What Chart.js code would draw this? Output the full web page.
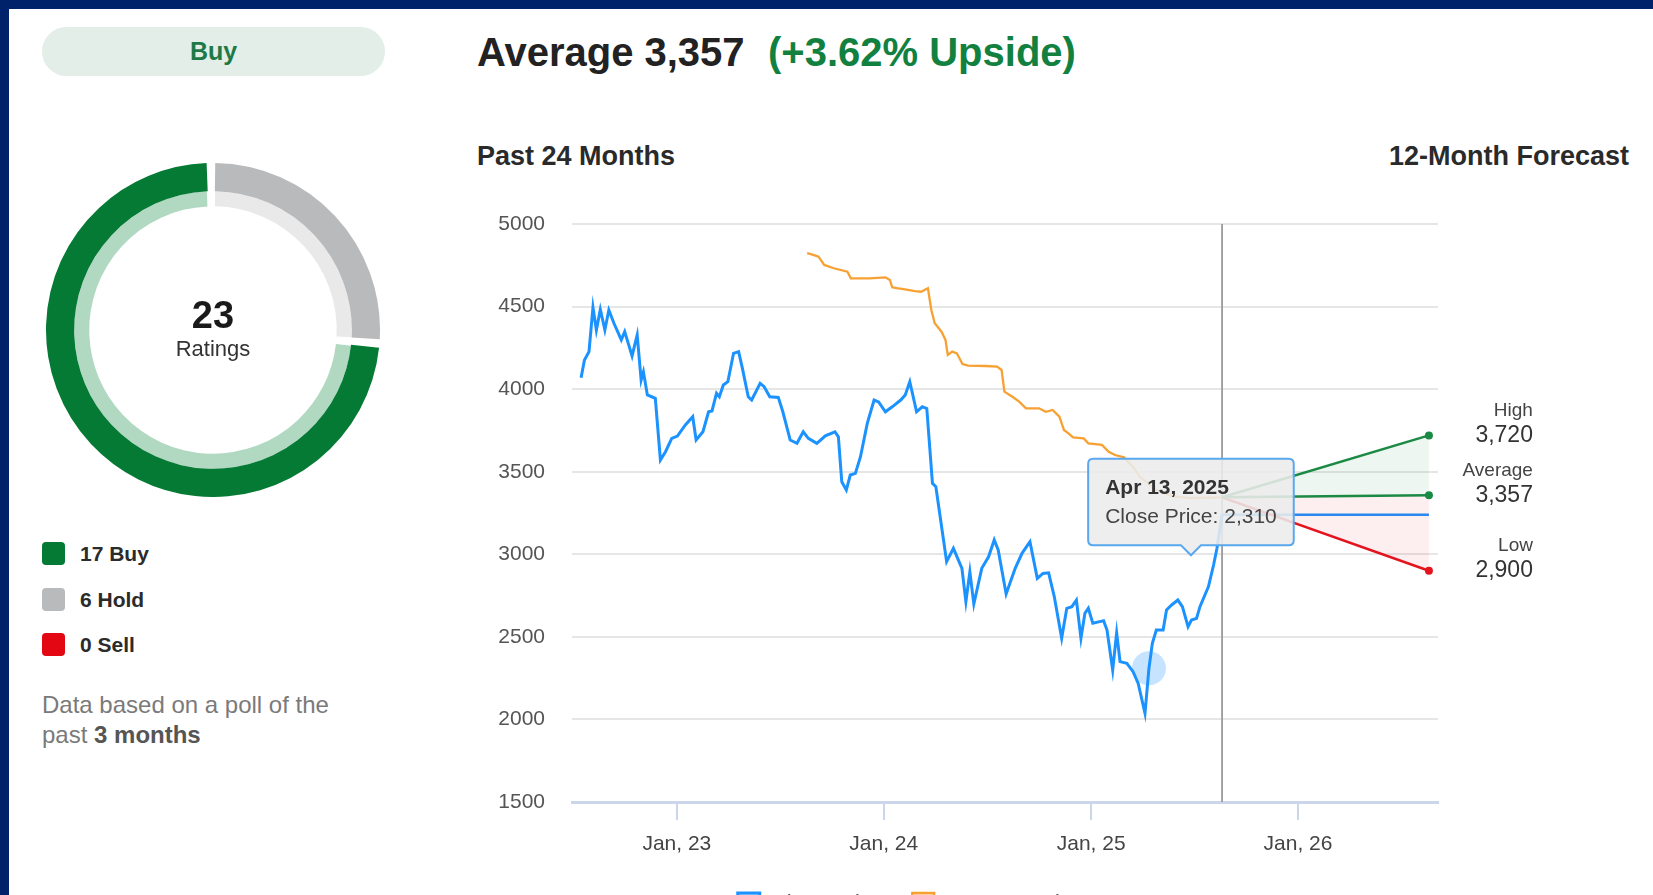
<!DOCTYPE html>
<html>
<head>
<meta charset="utf-8">
<title>Analyst Price Target</title>
<script src="https://cdn.jsdelivr.net/npm/chart.js@4.4.1/dist/chart.umd.min.js"></script>
<style>
  html, body { margin: 0; padding: 0; }
  body {
    width: 1653px; height: 895px; overflow: hidden; position: relative;
    background: #fff; font-family: "Liberation Sans", Arial, sans-serif; color: #333;
  }
  .frame-top { position: absolute; left: 0; top: 0; width: 1653px; height: 9px; background: #00226a; }
  .frame-left { position: absolute; left: 0; top: 0; width: 9px; height: 895px; background: #00226a; }
  .pill {
    position: absolute; left: 42px; top: 27px; width: 343px; height: 49px; border-radius: 25px;
    background: #e3eee8; color: #1d7a48; font-weight: bold; font-size: 25px; line-height: 49px; text-align: center;
  }
  #donutBox { position: absolute; left: 46px; top: 163px; width: 334px; height: 334px; }
  .count { position: absolute; left: 113px; width: 200px; top: 296px; text-align: center; font-size: 38px; line-height: 1; font-weight: bold; color: #1a1a1a; }
  .count-label { position: absolute; left: 113px; width: 200px; top: 338px; text-align: center; font-size: 22px; line-height: 1; color: #333; }
  .legend { position: absolute; left: 42px; top: 542px; }
  .legend-row { height: 23px; margin-bottom: 22.6px; display: flex; align-items: center; }
  .swatch { width: 23px; height: 23px; border-radius: 4px; margin-right: 15px; }
  .legend-row span { font-size: 21px; font-weight: bold; line-height: 23px; color: #2b2b2b; }
  .note { position: absolute; left: 42px; top: 690px; width: 300px; font-size: 24px; line-height: 30px; color: #7a7a7a; }
  .note b { color: #555; }
  .headline { position: absolute; top: 32px; font-size: 40px; line-height: 1; font-weight: bold; color: #222; white-space: nowrap; }
  .upside { color: #12803f; }
  .subhead { position: absolute; top: 143px; font-size: 27px; line-height: 1; font-weight: bold; color: #2a2a2a; white-space: nowrap; }
  #priceBox { position: absolute; left: 450px; top: 180px; width: 1203px; height: 745px; }
</style>
</head>
<body>
<div class="frame-top"></div>
<div class="frame-left"></div>

<div class="pill">Buy</div>
<div id="donutBox"><canvas id="donut"></canvas></div>
<div class="count" id="ratingTotal"></div>
<div class="count-label">Ratings</div>
<div class="legend" id="ratingLegend"></div>
<div class="note">Data based on a poll of the past <b>3 months</b></div>

<div class="headline" style="left:477px;">Average 3,357</div>
<div class="headline upside" style="left:768px;">(+3.62% Upside)</div>
<div class="subhead" style="left:477px;">Past 24 Months</div>
<div class="subhead" style="right:24px;">12-Month Forecast</div>

<div id="priceBox"><canvas id="price"></canvas></div>

<script>
// ratings poll
const ratingLabels = ["Buy", "Hold", "Sell"];
const ratingCounts = [17, 6, 0];
const ratingColors = ["#047a35", "#b8babc", "#e30613"];
const ratingLightColors = ["#b1d8c1", "#e9e9ea", "#f6c4c6"];

// close price
const closeDates = [
  "2022-07-16","2022-07-22","2022-07-30","2022-08-06","2022-08-12","2022-08-19","2022-08-27","2022-09-03","2022-09-12","2022-09-25",
  "2022-10-01","2022-10-14","2022-10-23","2022-10-30","2022-11-03","2022-11-10","2022-11-24","2022-12-03","2022-12-12","2022-12-23",
  "2023-01-02","2023-01-16","2023-01-29","2023-02-04","2023-02-16","2023-02-26","2023-03-04","2023-03-12","2023-03-17","2023-03-24",
  "2023-04-01","2023-04-11","2023-04-20","2023-04-26","2023-05-07","2023-05-13","2023-05-28","2023-06-04","2023-06-14","2023-06-29",
  "2023-07-07","2023-07-20","2023-08-01","2023-08-12","2023-08-21","2023-09-05","2023-09-20","2023-10-07","2023-10-13","2023-10-19",
  "2023-10-27","2023-11-03","2023-11-12","2023-11-21","2023-12-03","2023-12-15","2023-12-23","2024-01-04","2024-01-16","2024-01-31",
  "2024-02-08","2024-02-16","2024-02-28","2024-03-09","2024-03-17","2024-03-27","2024-04-02","2024-04-21","2024-05-03","2024-05-18",
  "2024-05-25","2024-06-01","2024-06-08","2024-06-22","2024-07-04","2024-07-14","2024-07-21","2024-08-04","2024-08-20","2024-09-01",
  "2024-09-15","2024-09-28","2024-10-08","2024-10-18","2024-10-28","2024-11-10","2024-11-19","2024-11-28","2024-12-06","2024-12-14",
  "2024-12-21","2024-12-27","2025-01-04","2025-01-16","2025-01-23","2025-01-29","2025-02-08","2025-02-15","2025-02-21","2025-03-05",
  "2025-03-16","2025-03-25","2025-04-06","2025-04-13","2025-04-19","2025-04-26","2025-05-08","2025-05-14","2025-05-23","2025-06-03",
  "2025-06-11","2025-06-21","2025-06-27","2025-07-06","2025-07-12","2025-07-27","2025-08-05","2025-08-11","2025-08-20"
];
const closeValues = [
  4069,4176,4227,4495,4358,4483,4358,4479,4399,4298,
  4348,4201,4328,4055,4105,3965,3944,3571,3621,3702,
  3716,3783,3833,3692,3742,3863,3868,3975,3954,4025,
  4045,4217,4227,4136,3954,3934,4035,4015,3954,3950,
  3863,3692,3672,3742,3702,3672,3717,3742,3711,3439,
  3389,3480,3490,3591,3793,3934,3923,3863,3893,3934,
  3965,4045,3863,3893,3883,3429,3409,2955,3036,2915,
  2713,2894,2699,2915,2985,3087,3026,2760,2915,3006,
  3076,2854,2884,2888,2743,2491,2673,2683,2723,2491,
  2643,2673,2582,2592,2598,2541,2299,2525,2350,2340,
  2289,2218,2037,2310,2461,2541,2541,2663,2693,2723,
  2683,2562,2602,2612,2683,2804,2935,3036,3240
];

// average analyst price target, orange line
const targetDates = [
  "2023-08-19","2023-08-31","2023-09-08","2023-09-18","2023-10-05","2023-10-29","2023-11-04","2023-12-07","2024-01-04","2024-01-12",
  "2024-01-16","2024-01-24","2024-02-05","2024-02-25","2024-03-07","2024-03-19","2024-03-25","2024-03-31","2024-04-12","2024-04-19",
  "2024-04-23","2024-05-01","2024-05-09","2024-05-19","2024-05-29","2024-06-29","2024-07-19","2024-07-27","2024-08-01","2024-08-15",
  "2024-08-27","2024-09-08","2024-10-01","2024-10-13","2024-10-25","2024-11-06","2024-11-14","2024-11-22","2024-11-30","2024-12-19",
  "2024-12-27","2025-01-20","2025-02-01","2025-02-12","2025-02-28","2025-03-16","2025-03-28","2025-04-26","2025-05-26","2025-06-25",
  "2025-08-20"
];
const targetValues = [
  4823,4812,4802,4752,4732,4711,4671,4671,4677,4661,
  4617,4611,4605,4594,4590,4611,4479,4399,4348,4298,
  4207,4227,4217,4152,4142,4140,4136,4116,3985,3954,
  3924,3884,3884,3863,3874,3833,3753,3732,3708,3702,
  3672,3662,3621,3601,3587,3529,3469,3389,3350,3340,
  3345
];

// 12 month forecast
const forecastDates = ["2025-08-20", "2026-08-20"];
const forecastStart = 3345;
const forecastHigh = 3720;
const forecastAvg = 3357;
const forecastLow = 2900;
const lastClose = 3240;

const xRange = ["2022-06-30", "2026-09-05"];
const xTickDates = ["2023-01-01", "2024-01-01", "2025-01-01", "2026-01-01"];
const yTicks = [1500, 2000, 2500, 3000, 3500, 4000, 4500, 5000];
const tooltipDate = "2025-04-13";

const MONTHS = ["Jan","Feb","Mar","Apr","May","Jun","Jul","Aug","Sep","Oct","Nov","Dec"];
const toMs = (d) => Date.parse(d);
const pairs = (dates, values) => dates.map((d, i) => ({ x: toMs(d), y: values[i] }));

Chart.defaults.font.family = "'Liberation Sans', Arial, sans-serif";

// ---------- left side: ratings donut ----------
const total = ratingCounts.reduce((a, b) => a + b, 0);
document.getElementById("ratingTotal").textContent = total;

document.getElementById("ratingLegend").innerHTML = ratingLabels.map((label, i) => `
  <div class="legend-row">
    <div class="swatch" style="background:${ratingColors[i]}"></div>
    <span>${ratingCounts[i]} ${label}</span>
  </div>`).join("");

new Chart(document.getElementById("donut"), {
  type: "doughnut",
  data: {
    labels: ratingLabels,
    datasets: [
      { data: ratingCounts, backgroundColor: ratingColors, borderWidth: 0, spacing: 5, weight: 28 },
      { data: ratingCounts, backgroundColor: ratingLightColors, borderWidth: 0, spacing: 5, weight: 15 }
    ]
  },
  options: {
    responsive: true,
    maintainAspectRatio: false,
    animation: false,
    events: [],
    cutout: "73.7%",
    // hold slice starts at 12 o'clock, buy follows it
    rotation: 360 * ratingCounts[1] / total,
    plugins: { legend: { display: false }, tooltip: { enabled: false } }
  }
});

// ---------- right side: price chart ----------
Chart.Tooltip.positioners.priceTag = function (items) {
  if (!items.length) return false;
  const el = items[0].element;
  return { x: el.x + 42, y: el.y - 113 };
};

const forecastLabels = {
  id: "forecastLabels",
  afterDatasetsDraw(chart) {
    const ctx = chart.ctx;
    const items = [[2, "High"], [3, "Average"], [4, "Low"]];
    ctx.save();
    ctx.textAlign = "right";
    ctx.textBaseline = "middle";
    items.forEach(([di, name]) => {
      const pts = chart.getDatasetMeta(di).data;
      const p = pts[pts.length - 1];
      const v = chart.data.datasets[di].data[pts.length - 1].y;
      const x = p.x + 104;
      ctx.fillStyle = "#333";
      ctx.font = "23px 'Liberation Sans', Arial, sans-serif";
      ctx.fillText(v.toLocaleString("en-US"), x, p.y);
      ctx.fillStyle = "#444";
      ctx.font = "19px 'Liberation Sans', Arial, sans-serif";
      ctx.fillText(name, x, p.y - 25);
    });
    ctx.restore();
  }
};

const fc = (endValue) => [{ x: toMs(forecastDates[0]), y: forecastStart }, { x: toMs(forecastDates[1]), y: endValue }];

// legend sits below the visible area, only its top edge shows
const legendGap = 29;

const priceChart = new Chart(document.getElementById("price"), {
  type: "line",
  data: {
    datasets: [
      {
        label: "Close Price",
        data: pairs(closeDates, closeValues),
        borderColor: "#1c92ff",
        backgroundColor: "rgba(28,146,255,0.35)",
        borderWidth: 3,
        pointRadius: 0,
        pointHoverRadius: 17,
        pointHoverBorderWidth: 0,
        pointHoverBackgroundColor: "rgba(28,146,255,0.25)",
        tension: 0
      },
      {
        label: "Average Price Target",
        data: pairs(targetDates, targetValues),
        borderColor: "#f7a133",
        backgroundColor: "rgba(247,161,51,0.35)",
        borderWidth: 2.3,
        pointRadius: 0,
        tension: 0
      },
      {
        label: "High",
        data: fc(forecastHigh),
        borderColor: "#1b8a44",
        backgroundColor: "rgba(27,138,68,0.08)",
        borderWidth: 2.5,
        pointRadius: [0, 4],
        pointBackgroundColor: "#1b8a44",
        pointBorderWidth: 0,
        fill: "+1"
      },
      {
        label: "Average",
        data: fc(forecastAvg),
        borderColor: "#1b8a44",
        borderWidth: 2.5,
        pointRadius: [0, 4],
        pointBackgroundColor: "#1b8a44",
        pointBorderWidth: 0
      },
      {
        label: "Low",
        data: fc(forecastLow),
        borderColor: "#e4141f",
        backgroundColor: "rgba(228,20,31,0.07)",
        borderWidth: 2.5,
        pointRadius: [0, 4],
        pointBackgroundColor: "#e4141f",
        pointBorderWidth: 0,
        fill: "-1"
      },
      {
        label: "Current",
        data: forecastDates.map((d) => ({ x: toMs(d), y: lastClose })),
        borderColor: "#1c92ff",
        borderWidth: 2.5,
        pointRadius: 0
      },
      {
        label: "Today",
        data: [{ x: toMs(forecastDates[0]), y: yTicks[0] }, { x: toMs(forecastDates[0]), y: yTicks[yTicks.length - 1] }],
        borderColor: "#9a9a9a",
        borderWidth: 1.8,
        pointRadius: 0
      }
    ]
  },
  options: {
    responsive: true,
    maintainAspectRatio: false,
    animation: false,
    events: [],
    layout: { padding: { top: 44, right: 215, left: 0, bottom: 0 } },
    scales: {
      x: {
        type: "linear",
        min: toMs(xRange[0]),
        max: toMs(xRange[1]),
        afterBuildTicks: (s) => { s.ticks = xTickDates.map((d) => ({ value: toMs(d) })); },
        afterFit: (s) => { s.height = 91 - legendGap; },
        grid: { drawOnChartArea: false, color: "#ccd6eb", lineWidth: 2, tickLength: 18 },
        border: { color: "#ccd6eb", width: 3 },
        ticks: {
          autoSkip: false,
          maxRotation: 0,
          padding: 12,
          color: "#444",
          font: { size: 21 },
          callback: (v) => {
            const d = new Date(v);
            return MONTHS[d.getUTCMonth()] + ", " + String(d.getUTCFullYear()).slice(2);
          }
        }
      },
      y: {
        min: yTicks[0],
        max: yTicks[yTicks.length - 1],
        afterBuildTicks: (s) => { s.ticks = yTicks.map((v) => ({ value: v })); },
        afterFit: (s) => { s.width = 122; },
        grid: { color: "#e6e6e6", lineWidth: 2, drawTicks: false },
        border: { display: false },
        ticks: { padding: 27, color: "#555", font: { size: 21 }, callback: (v) => String(v) }
      }
    },
    plugins: {
      legend: {
        position: "bottom",
        labels: {
          filter: (item) => item.datasetIndex < 2,
          boxWidth: 22,
          boxHeight: 22,
          padding: legendGap,
          color: "#555",
          font: { size: 22 }
        }
      },
      tooltip: {
        position: "priceTag",
        yAlign: "bottom",
        xAlign: "center",
        filter: (item) => item.datasetIndex === 0,
        backgroundColor: "rgba(236,236,236,0.88)",
        borderColor: "#5aa8ee",
        borderWidth: 2,
        cornerRadius: 5,
        caretSize: 10,
        caretPadding: 0,
        displayColors: false,
        padding: { top: 17, bottom: 15, left: 17, right: 17 },
        titleColor: "#333",
        titleFont: { size: 21, weight: "bold" },
        titleMarginBottom: 4,
        bodyColor: "#444",
        bodyFont: { size: 21 },
        callbacks: {
          title: (items) => {
            const d = new Date(items[0].parsed.x);
            return MONTHS[d.getUTCMonth()] + " " + d.getUTCDate() + ", " + d.getUTCFullYear();
          },
          label: (item) => "Close Price: " + item.parsed.y.toLocaleString("en-US")
        }
      }
    }
  },
  plugins: [forecastLabels]
});

const hoverIndex = closeDates.indexOf(tooltipDate);
const active = [{ datasetIndex: 0, index: hoverIndex }];
priceChart.setActiveElements(active);
priceChart.tooltip.setActiveElements(active, { x: 0, y: 0 });
priceChart.update();
</script>
</body>
</html>
